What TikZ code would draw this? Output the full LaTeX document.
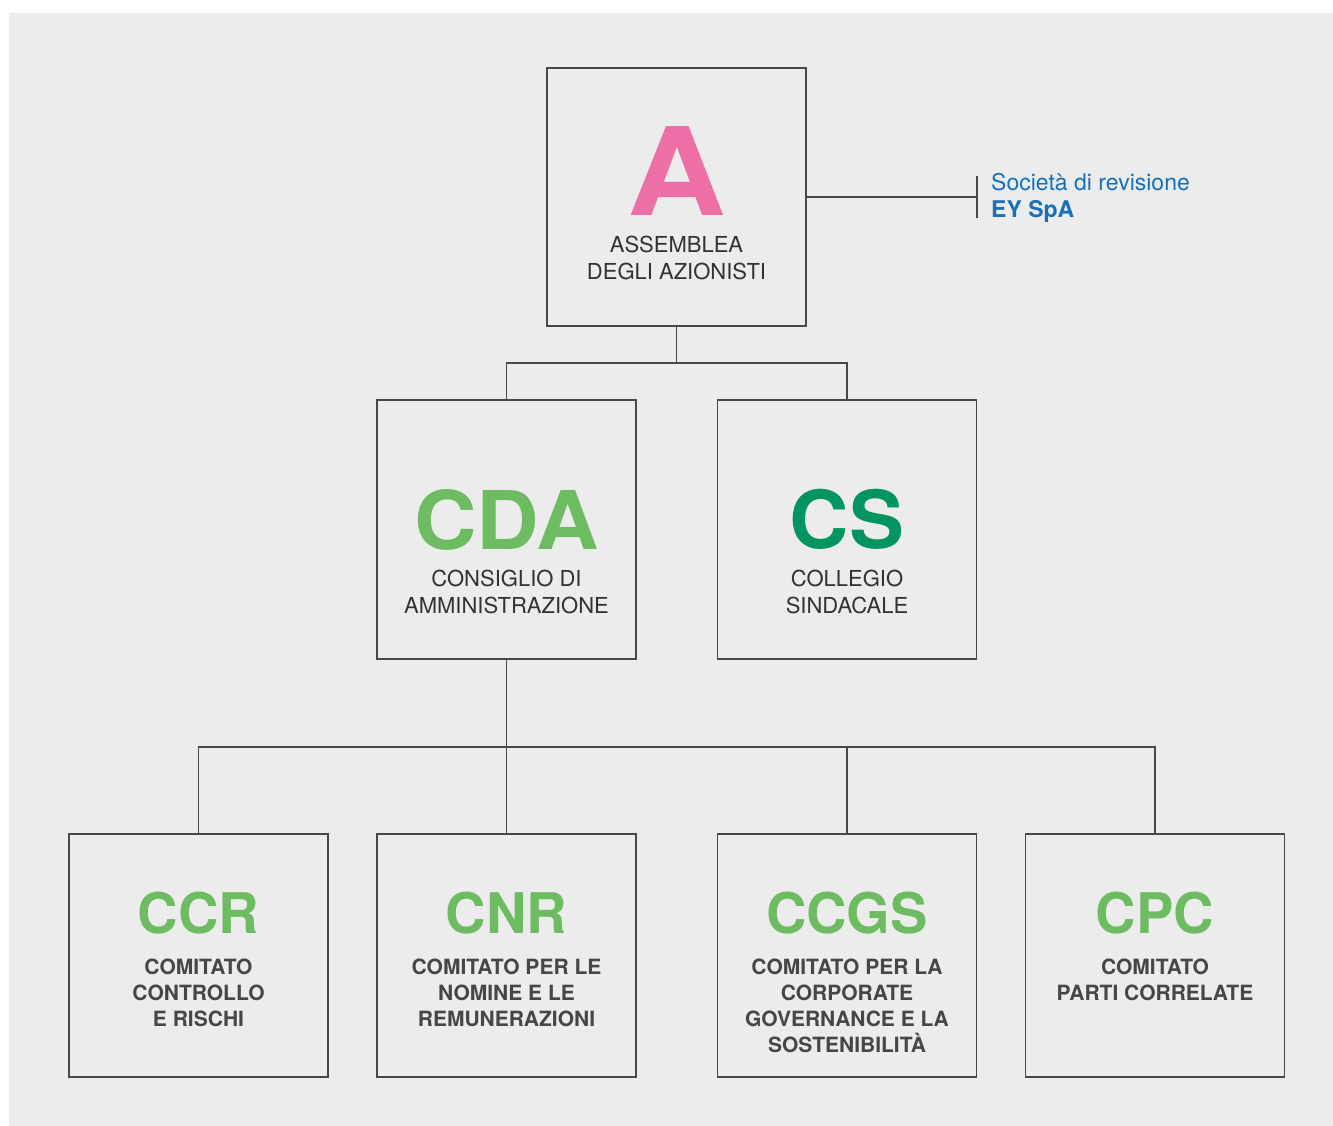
\documentclass[tikz,border=0pt]{standalone}
\usepackage{fontspec}
\setmainfont{TeX Gyre Heros}
\usepackage{tikz}
\usetikzlibrary{positioning, calc}
\usepackage{xcolor}
\definecolor{bgray}{RGB}{236,236,236}
\definecolor{linegray}{RGB}{72,72,72}
\definecolor{txtgray}{RGB}{50,50,50}
\definecolor{assmpink}{RGB}{238,111,165}
\definecolor{cdagreen}{RGB}{110,188,98}
\definecolor{csgreen}{RGB}{0,148,96}
\definecolor{eyblue}{RGB}{22,112,187}

\begin{document}
\begin{tikzpicture}[x=1pt, y=-1pt,
  box/.style={draw=linegray, line width=1.6pt, minimum width=259pt, inner sep=0pt},
  conn/.style={draw=linegray, line width=1.2pt},
  acr/.style={font=\bfseries, inner sep=0pt, anchor=north},
  lbl/.style={font=\fontsize{22}{27}\selectfont, text=txtgray, align=center, inner sep=0pt, anchor=north},
  blbl/.style={font=\fontsize{21}{26}\selectfont\bfseries, text=txtgray!90!white, align=center, inner sep=0pt, anchor=north}
]
\useasboundingbox (0,0) rectangle (1333,1126);
\fill[bgray] (9,13) rectangle (1333,1126);

% boxes
\node[box, minimum height=258pt] (asm) at (676.5,197) {};
\node[box, minimum height=259pt] (cda) at (506.5,529.5) {};
\node[box, minimum height=259pt] (cs) at (847,529.5) {};
\node[box, minimum height=243pt] (ccr) at (198.5,955.5) {};
\node[box, minimum height=243pt] (cnr) at (506.5,955.5) {};
\node[box, minimum height=243pt] (ccgs) at (847,955.5) {};
\node[box, minimum height=243pt] (cpc) at (1155,955.5) {};

% acronyms and labels
\node[acr, text=assmpink, font=\fontsize{122}{122}\selectfont\bfseries] (asmT) at ([yshift=-59pt]asm.north) {\scalebox{1.12}[1]{A}};
\node[lbl] (asmL) at ([yshift=-169pt]asm.north) {ASSEMBLEA\\DEGLI AZIONISTI};

\node[acr, text=cdagreen, font=\fontsize{81}{81}\selectfont\bfseries] (cdaT) at ([yshift=-90pt]cda.north) {\scalebox{1.07}[1]{CDA}};
\node[lbl] (cdaL) at ([yshift=-171pt]cda.north) {CONSIGLIO DI\\AMMINISTRAZIONE};

\node[acr, text=csgreen, font=\fontsize{80}{80}\selectfont\bfseries] (csT) at ([yshift=-90pt]cs.north) {\scalebox{1.03}[1]{CS}};
\node[lbl] (csL) at ([yshift=-171pt]cs.north) {COLLEGIO\\SINDACALE};

\node[acr, text=cdagreen, font=\fontsize{56}{56}\selectfont\bfseries] (ccrT) at ([yshift=-59pt]ccr.north) {CCR};
\node[blbl] (ccrL) at ([yshift=-126pt]ccr.north) {COMITATO\\CONTROLLO\\E RISCHI};

\node[acr, text=cdagreen, font=\fontsize{56}{56}\selectfont\bfseries] (cnrT) at ([yshift=-59pt]cnr.north) {CNR};
\node[blbl] (cnrL) at ([yshift=-126pt]cnr.north) {COMITATO PER LE\\NOMINE E LE\\REMUNERAZIONI};

\node[acr, text=cdagreen, font=\fontsize{56}{56}\selectfont\bfseries] (ccgsT) at ([yshift=-59pt]ccgs.north) {CCGS};
\node[blbl] (ccgsL) at ([yshift=-126pt]ccgs.north) {COMITATO PER LA\\CORPORATE\\GOVERNANCE E LA\\SOSTENIBILITÀ};

\node[acr, text=cdagreen, font=\fontsize{56}{56}\selectfont\bfseries] (cpcT) at ([yshift=-59pt]cpc.north) {CPC};
\node[blbl] (cpcL) at ([yshift=-126pt]cpc.north) {COMITATO\\PARTI CORRELATE};

% auditor
\node[font=\fontsize{23}{27}\selectfont, text=eyblue, align=left, inner sep=0pt, anchor=west] (rev) at (991,197.5) {Società di revisione\\\textbf{EY SpA}};
\coordinate (bar) at ([xshift=-14pt]rev.west);
\draw[conn] (asm.east) -- (asm.east -| bar);
\draw[conn] ([yshift=-21pt]bar) -- ([yshift=21pt]bar);

% connectors
\coordinate (j1) at (676.5,363);
\coordinate (j2) at (506.5,747);
\draw[conn] (asm.south) -- (j1);
\draw[conn] (cda.north) |- (j1) -| (cs.north);
\draw[conn] (cda.south) -- (cnr.north);
\draw[conn] (ccr.north) |- (j2) -| (cpc.north);
\draw[conn] (ccgs.north) -- (ccgs.north |- j2);
\end{tikzpicture}
\end{document}
